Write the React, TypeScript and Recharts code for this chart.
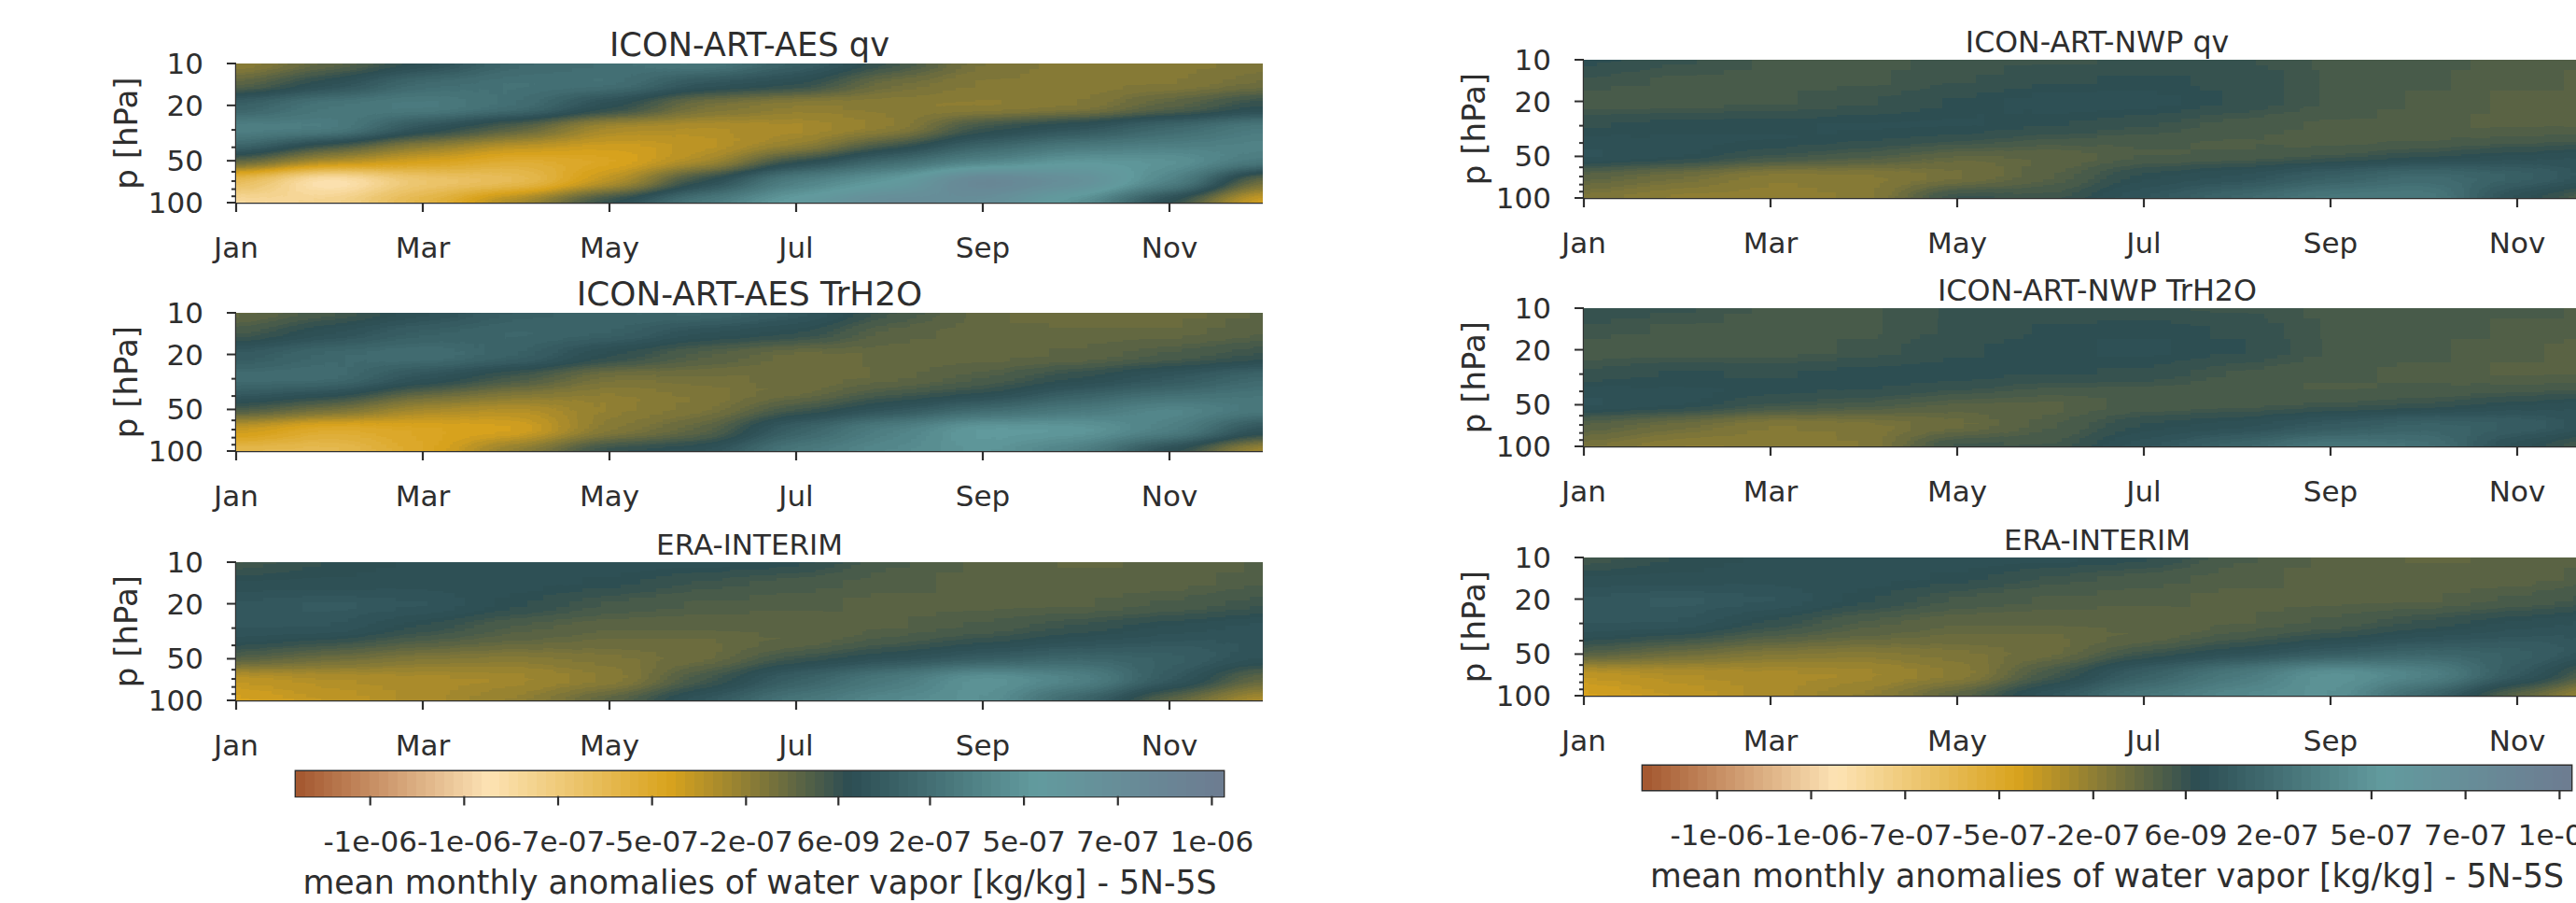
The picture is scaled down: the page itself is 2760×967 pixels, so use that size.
import { ScatterChart, Scatter, XAxis, YAxis, ReferenceArea } from "recharts";

const months = ["Jan", "Feb", "Mar", "Apr", "May", "Jun", "Jul", "Aug", "Sep", "Oct", "Nov", "Dec"];
const monthTicks = [0, 2, 4, 6, 8, 10];
const levels = [10, 14, 20, 30, 40, 50, 70, 100];
const pressureTicks = [10, 20, 30, 40, 50, 60, 70, 80, 90, 100];
const pressureLabels = [10, 20, 50, 100];

// anomalies in 1e-7 kg/kg, one row per month, one column per level
const aesQv = [
  [-2.4, -1.0, 1.5, 3.6, 2.0, -1.0, -6.0, -8.2],
  [-1.0, 0.5, 2.8, 3.4, -0.3, -3.2, -9.2, -7.8],
  [0.3, 2.2, 3.3, 0.8, -2.3, -4.2, -6.8, -5.5],
  [2.0, 2.6, 2.4, -0.8, -3.5, -5.2, -6.2, -2.8],
  [2.4, 2.6, 0.4, -3.0, -4.0, -4.6, -3.5, 0.2],
  [3.0, 0.9, -1.6, -3.2, -3.6, -3.0, 0.2, 3.0],
  [1.5, 0.3, -2.3, -3.0, -2.5, 0.2, 3.5, 5.3],
  [0.0, -1.4, -2.2, -2.4, -0.2, 2.2, 5.0, 7.5],
  [-1.7, -2.0, -2.3, 0.0, 1.8, 3.8, 8.5, 7.0],
  [-2.1, -2.1, -2.0, 0.8, 3.0, 5.0, 7.0, 4.5],
  [-2.1, -2.0, -0.9, 2.0, 3.5, 4.8, 3.8, 0.2],
  [-1.8, -1.4, 0.2, 3.2, 3.8, 3.0, -1.5, -4.3],
];
const aesTr = [
  [-1.2, -0.4, 1.2, 2.3, 1.2, -0.4, -3.8, -5.8],
  [-0.4, 0.6, 2.0, 2.3, 0.5, -1.5, -5.0, -6.0],
  [0.5, 1.5, 2.4, 0.8, -1.2, -3.0, -4.5, -4.6],
  [1.4, 1.9, 1.6, -0.3, -2.0, -3.4, -4.2, -2.2],
  [1.8, 1.6, 0.2, -1.6, -2.4, -2.4, -2.0, 0.2],
  [2.0, 0.6, -0.7, -1.5, -1.9, -1.8, -1.0, 0.6],
  [1.2, 0.2, -1.3, -1.4, -1.3, -0.2, 1.6, 3.0],
  [-0.2, -0.9, -1.2, -1.2, -0.3, 0.9, 3.5, 4.0],
  [-1.2, -1.2, -1.2, -0.6, 0.2, 2.2, 5.2, 4.8],
  [-1.3, -1.2, -1.0, 0.1, 1.5, 3.0, 5.0, 3.5],
  [-1.3, -1.2, -0.5, 1.0, 2.4, 4.0, 3.5, 0.3],
  [-1.0, -0.8, 0.0, 2.0, 2.8, 3.0, 0.6, -3.0],
];
const eraInterim = [
  [-0.3, 0.4, 1.0, 1.0, 0.3, -0.8, -3.6, -4.2],
  [0.2, 0.4, 1.2, 1.0, -0.1, -1.4, -3.2, -3.6],
  [0.4, 0.5, 1.0, 0.1, -0.8, -2.0, -3.0, -3.0],
  [0.4, 0.5, 0.2, -0.6, -1.2, -2.2, -2.8, -2.4],
  [0.5, 0.3, -0.3, -1.0, -1.3, -1.8, -2.3, -0.9],
  [0.5, -0.1, -0.6, -1.0, -1.3, -1.3, -0.3, 1.0],
  [0.3, -0.4, -0.7, -1.0, -1.0, 0.0, 1.5, 2.8],
  [-0.5, -0.7, -0.8, -0.8, -0.3, 0.7, 3.0, 4.0],
  [-0.8, -0.8, -0.8, -0.5, 0.2, 1.4, 4.8, 4.6],
  [-1.1, -0.9, -0.8, 0.0, 0.8, 2.0, 3.8, 1.8],
  [-1.0, -0.9, -0.5, 0.4, 1.1, 1.6, 1.2, -1.0],
  [-0.7, -0.6, -0.1, 0.8, 1.0, 0.6, -1.2, -3.2],
];
const nwpQv = [
  [0.3, -0.1, -0.4, 0.1, 0.5, 0.8, -0.9, -1.8],
  [0.0, -0.3, -0.4, 0.3, 0.4, 0.5, -1.4, -2.4],
  [-0.35, -0.35, -0.3, 0.3, 0.4, -0.1, -2.2, -2.4],
  [-0.35, -0.3, -0.1, 0.4, 0.2, -0.5, -2.1, -2.2],
  [-0.2, -0.1, 0.2, 0.4, 0.0, -1.2, -1.6, 0.1],
  [-0.1, 0.1, 0.5, 0.2, -0.4, -1.1, -0.8, -0.2],
  [0.0, 0.2, 0.5, 0.0, -0.5, -0.6, 0.3, 1.0],
  [0.0, 0.1, 0.1, -0.4, -0.6, -0.5, 0.7, 2.0],
  [-0.3, -0.3, -0.3, -0.6, -0.7, -0.2, 1.5, 3.0],
  [-0.4, -0.5, -0.6, -0.7, -0.6, 0.1, 2.2, 3.2],
  [-0.7, -0.7, -0.8, -0.8, -0.4, 0.5, 1.6, 0.4],
  [-0.7, -0.8, -0.9, -0.8, -0.2, 0.8, 0.6, -1.0],
];
const nwpTr = [
  [0.1, -0.1, -0.4, 0.0, 0.5, 0.8, -0.8, -1.6],
  [0.0, -0.3, -0.4, 0.2, 0.4, 0.5, -1.3, -2.3],
  [-0.3, -0.4, -0.4, 0.1, 0.3, -0.1, -2.0, -2.2],
  [-0.3, -0.3, -0.2, 0.3, 0.2, -0.4, -1.8, -2.0],
  [0.0, 0.0, 0.1, 0.3, 0.0, -0.9, -1.3, 0.0],
  [0.0, 0.2, 0.3, 0.2, -0.4, -0.9, -0.6, -0.3],
  [0.0, 0.3, 0.4, 0.1, -0.4, -0.5, 0.2, 0.9],
  [-0.1, 0.1, 0.2, -0.3, -0.5, -0.4, 0.5, 1.8],
  [-0.3, -0.3, -0.3, -0.5, -0.6, -0.2, 1.2, 2.9],
  [-0.35, -0.4, -0.5, -0.6, -0.5, 0.0, 1.7, 2.6],
  [-0.5, -0.6, -0.7, -0.8, -0.4, 0.4, 1.4, 0.4],
  [-0.6, -0.7, -0.9, -0.8, -0.2, 0.7, 0.6, -0.8],
];

const cbarTicks = [-11.9, -9.5, -7.1, -4.7, -2.3, 0.06, 2.4, 4.8, 7.2, 9.6];
const cbarLabels = ["-1e-06", "-1e-06", "-7e-07", "-5e-07", "-2e-07", "6e-09", "2e-07", "5e-07", "7e-07", "1e-06"];
const cmapValues = [-13.8, -8.87, -4.25, 0.35, 5.1, 9.9];
const cmapColors = [
  [163, 86, 46],
  [253, 227, 180],
  [217, 163, 29],
  [44, 77, 83],
  [98, 155, 158],
  [109, 124, 145],
];

const VMIN = -13.8;
const VMAX = 9.9;
const NLEVELS = 100;
const INK = "#2e2e2e";
const FONT = "'DejaVu Sans'";
const MARGIN = { top: 70, left: 149, right: 70, bottom: 109 };
const PLOT_LEFT = 150;
const PLOT_TOP = 70;

function cmap(v: number) {
  let i = 0;
  while (i < cmapValues.length - 2 && v > cmapValues[i + 1]) i++;
  const t = Math.max(0, Math.min(1, (v - cmapValues[i]) / (cmapValues[i + 1] - cmapValues[i])));
  return cmapColors[i].map((c, k) => c + (cmapColors[i + 1][k] - c) * t);
}

const levelValues = Array.from({ length: NLEVELS }, (_, i) => VMIN + ((i + 0.5) * (VMAX - VMIN)) / NLEVELS);
const table = (k: number) => levelValues.map((v) => (cmap(v)[k] / 255).toFixed(3)).join(" ");

const cellsFrom = (grid: number[][]) =>
  grid.flatMap((row, m) => row.map((v, l) => ({ x: m, y: levels[l], l, m, v })));

function heatCell(plotH: number) {
  return (props: any) => {
    const { cx, cy, payload } = props;
    const { l, m, v } = payload;
    const up = l > 0 ? Math.sqrt(levels[l - 1] * levels[l]) : 0;
    const down = l < levels.length - 1 ? Math.sqrt(levels[l + 1] * levels[l]) : 0;
    const y0 = up ? cy - plotH * Math.log10(levels[l] / up) : cy - 50;
    const y1 = down ? cy + plotH * Math.log10(down / levels[l]) : cy + 50;
    const x0 = m === 0 ? cx - 120 : cx - 50;
    const x1 = m === 11 ? cx + 120 : cx + 50;
    const g = Math.round((255 * (v - VMIN)) / (VMAX - VMIN));
    return <rect x={x0} y={y0} width={x1 - x0} height={y1 - y0} fill={`rgb(${g},${g},${g})`} shapeRendering="crispEdges" />;
  };
}

function monthTick({ x, y, payload }: any) {
  return (
    <g>
      <line x1={x} x2={x} y1={y} y2={y + 10} stroke={INK} strokeWidth={2.2} />
      <text x={x} y={y + 59} textAnchor="middle" fontSize={31} fontFamily={FONT} fill={INK}>
        {months[payload.value]}
      </text>
    </g>
  );
}

function pressureTick({ x, y, payload }: any) {
  const major = pressureLabels.includes(payload.value);
  return (
    <g>
      <line x1={x - (major ? 10 : 5)} x2={x} y1={y} y2={y} stroke={INK} strokeWidth={2} />
      {major && (
        <text x={x - 35} y={y + 11} textAnchor="end" fontSize={31} fontFamily={FONT} fill={INK}>
          {payload.value}
        </text>
      )}
    </g>
  );
}

function HeatPanel({ id, title, titleSize, grid, left, top, plotW, plotH }: any) {
  const W = plotW + PLOT_LEFT + MARGIN.right;
  const H = plotH + PLOT_TOP + MARGIN.bottom + 1;
  return (
    <div style={{ position: "absolute", left: left - PLOT_LEFT, top: top - PLOT_TOP }}>
      <style>{`.${id} .recharts-scatter { filter: url(#f-${id}); clip-path: url(#c-${id}); }`}</style>
      <ScatterChart className={id} width={W} height={H} margin={MARGIN}>
        <defs>
          <filter id={`f-${id}`} filterUnits="userSpaceOnUse" x={0} y={0} width={W} height={H} colorInterpolationFilters="sRGB">
            <feGaussianBlur stdDeviation="32 7" />
            <feComponentTransfer>
              <feFuncR type="discrete" tableValues={table(0)} />
              <feFuncG type="discrete" tableValues={table(1)} />
              <feFuncB type="discrete" tableValues={table(2)} />
            </feComponentTransfer>
          </filter>
          <clipPath id={`c-${id}`}>
            <rect x={PLOT_LEFT} y={PLOT_TOP} width={plotW} height={plotH} />
          </clipPath>
        </defs>
        <XAxis
          type="number"
          dataKey="x"
          domain={[0, 11]}
          ticks={monthTicks}
          interval={0}
          height={1}
          tickLine={false}
          tickSize={0}
          tickMargin={0}
          tick={monthTick}
          axisLine={{ stroke: INK, strokeWidth: 2.4 }}
        />
        <YAxis
          type="number"
          dataKey="y"
          scale="log"
          reversed
          domain={[10, 100]}
          ticks={pressureTicks}
          interval={0}
          width={1}
          tickLine={false}
          tickSize={0}
          tickMargin={0}
          tick={pressureTick}
          axisLine={{ stroke: INK, strokeWidth: 2.4 }}
        />
        <Scatter data={cellsFrom(grid)} shape={heatCell(plotH)} isAnimationActive={false} />
        <text x={PLOT_LEFT + plotW / 2} y={PLOT_TOP - 8.5} textAnchor="middle" fontSize={titleSize} fontFamily={FONT} fill={INK}>
          {title}
        </text>
        <text
          transform={`translate(${PLOT_LEFT - 117},${PLOT_TOP + plotH / 2}) rotate(-90)`}
          y={11}
          textAnchor="middle"
          fontSize={34}
          fontFamily={FONT}
          fill={INK}
        >
          p [hPa]
        </text>
      </ScatterChart>
    </div>
  );
}

function cbarTick({ x, y, payload }: any) {
  const i = cbarTicks.indexOf(payload.value);
  return (
    <g>
      <line x1={x} x2={x} y1={y} y2={y + 10} stroke={INK} strokeWidth={2.2} />
      <text x={x} y={y + 59} textAnchor="middle" fontSize={31} fontFamily={FONT} fill={INK}>
        {cbarLabels[i]}
      </text>
    </g>
  );
}

function Colorbar({ left, top, plotW, plotH }: any) {
  const m = { top: 10, left: 60, right: 60, bottom: 119 };
  const step = plotW / NLEVELS + 0.6;
  const bar = (props: any) => {
    const c = cmap(props.payload.x).map(Math.round);
    return (
      <rect
        x={props.cx - step / 2}
        y={props.cy - plotH / 2}
        width={step}
        height={plotH}
        fill={`rgb(${c[0]},${c[1]},${c[2]})`}
        shapeRendering="crispEdges"
      />
    );
  };
  return (
    <div style={{ position: "absolute", left: left - m.left, top: top - m.top }}>
      <ScatterChart width={plotW + m.left + m.right} height={plotH + m.top + m.bottom + 1} margin={m}>
        <XAxis
          type="number"
          dataKey="x"
          domain={[VMIN, VMAX]}
          ticks={cbarTicks}
          interval={0}
          height={1}
          tickLine={false}
          tickSize={0}
          tickMargin={0}
          tick={cbarTick}
          axisLine={false}
        />
        <YAxis type="number" dataKey="y" domain={[0, 1]} hide />
        <Scatter data={levelValues.map((x) => ({ x, y: 0.5 }))} shape={bar} isAnimationActive={false} />
        <ReferenceArea x1={VMIN} x2={VMAX} y1={0} y2={1} fill="none" stroke={INK} strokeWidth={2.8} />
        <text x={m.left + plotW / 2} y={m.top + plotH + 104} textAnchor="middle" fontSize={34.7} fontFamily={FONT} fill={INK}>
          mean monthly anomalies of water vapor [kg/kg] - 5N-5S
        </text>
      </ScatterChart>
    </div>
  );
}

export default function App() {
  return (
    <div style={{ position: "absolute", left: 0, top: 0, width: 2760, height: 967, overflow: "hidden", background: "#fff" }}>
      <HeatPanel id="p1" title="ICON-ART-AES qv" titleSize={35.2} grid={aesQv} left={253} top={67.5} plotW={1100} plotH={149} />
      <HeatPanel id="p2" title="ICON-ART-AES TrH2O" titleSize={35.8} grid={aesTr} left={253} top={334.5} plotW={1100} plotH={148} />
      <HeatPanel id="p3" title="ERA-INTERIM" titleSize={31} grid={eraInterim} left={253} top={602} plotW={1100} plotH={148} />
      <HeatPanel id="p4" title="ICON-ART-NWP qv" titleSize={31.6} grid={nwpQv} left={1697} top={63.5} plotW={1100} plotH={148} />
      <HeatPanel id="p5" title="ICON-ART-NWP TrH2O" titleSize={31.8} grid={nwpTr} left={1697} top={329.5} plotW={1100} plotH={148} />
      <HeatPanel id="p6" title="ERA-INTERIM" titleSize={31} grid={eraInterim} left={1697} top={596.5} plotW={1100} plotH={148} />
      <Colorbar left={316.5} top={826} plotW={994} plotH={26.5} />
      <Colorbar left={1760} top={820} plotW={995} plotH={26} />
    </div>
  );
}
